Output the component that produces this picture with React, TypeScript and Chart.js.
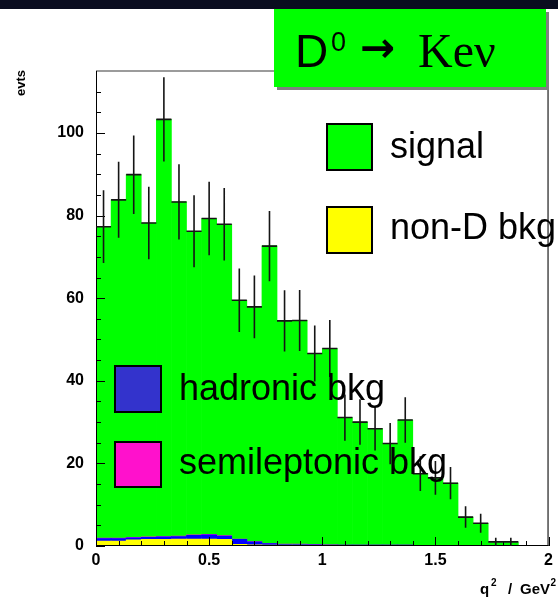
import React, { useEffect, useRef } from "react";
import { Chart, registerables } from "chart.js";

Chart.register(...registerables);

// ---- data ----
const binCenters = [
  0.0333, 0.1, 0.1667, 0.2333, 0.3, 0.3667, 0.4333, 0.5, 0.5667, 0.6333,
  0.7, 0.7667, 0.8333, 0.9, 0.9667, 1.0333, 1.1, 1.1667, 1.2333, 1.3,
  1.3667, 1.4333, 1.5, 1.5667, 1.6333, 1.7, 1.7667, 1.8333, 1.9, 1.9667,
];
const binWidth = 0.06667;

const observed = [
  77.3, 83.8, 89.9, 78.2, 103.3, 83.3, 76.2, 79.3, 77.9, 59.5,
  57.9, 72.6, 54.5, 54.6, 46.6, 47.8, 31.1, 30.0, 28.4, 24.8,
  30.5, 17.5, 16.5, 15.2, 7.0, 5.5, 1.0, 1.0, 0, 0,
];
const observedErr = [
  8.8, 9.2, 9.5, 8.8, 10.2, 9.1, 8.7, 8.9, 8.8, 7.7,
  7.6, 8.5, 7.4, 7.4, 6.8, 6.9, 5.6, 5.5, 5.3, 5.0,
  5.5, 4.2, 4.1, 3.9, 2.6, 2.3, 1.0, 1.0, 0, 0,
];
const signal = [
  75.4, 81.9, 87.8, 76.0, 101.0, 80.9, 73.5, 76.5, 75.4, 57.8,
  56.9, 72.0, 54.1, 54.2, 46.3, 47.5, 30.9, 29.8, 28.2, 24.6,
  30.3, 17.4, 16.4, 15.1, 6.9, 5.4, 0.7, 0.7, 0, 0,
];
const nonDBkg = [
  1.2, 1.2, 1.5, 1.6, 1.6, 1.7, 1.7, 1.7, 1.6, 0.4,
  0.3, 0.2, 0.2, 0.2, 0.15, 0.15, 0.1, 0.1, 0.1, 0.1,
  0.1, 0.1, 0.1, 0.1, 0.1, 0.1, 0.1, 0.1, 0, 0,
];
const hadronicBkg = [
  0.6, 0.6, 0.5, 0.5, 0.6, 0.6, 0.9, 1.0, 0.8, 1.2,
  0.7, 0.4, 0.2, 0.2, 0.15, 0.1, 0.1, 0.1, 0.1, 0.1,
  0.1, 0.05, 0.05, 0.05, 0, 0, 0, 0, 0, 0,
];
const semileptonicBkg = [
  0.1, 0.1, 0.1, 0.1, 0.1, 0.1, 0.1, 0.1, 0.1, 0.1,
  0.05, 0.05, 0.05, 0.05, 0.05, 0.05, 0, 0, 0, 0,
  0, 0, 0, 0, 0, 0, 0, 0, 0, 0,
];

const xTickLabels = ["0", "0.5", "1", "1.5", "2"];
const legendLabels = ["signal", "non-D bkg", "hadronic bkg", "semileptonic bkg"];

const SANS = '"Liberation Sans", Arial, Helvetica, sans-serif';
const SERIF = '"Liberation Serif", "Times New Roman", serif';

const decorPlugin = {
  id: "rootDecor",
  beforeDraw(chart: any) {
    const { ctx, width, height } = chart;
    ctx.save();
    ctx.fillStyle = "#ffffff";
    ctx.fillRect(0, 0, width, height);
    ctx.fillStyle = "#0a0c1f";
    ctx.fillRect(0, 0, width, 9);
    ctx.restore();
  },
  afterDatasetsDraw(chart: any) {
    const { ctx, chartArea: a } = chart;
    const xs = chart.scales.x;
    const ys = chart.scales.y;
    ctx.save();
    // frame
    ctx.lineWidth = 1.5;
    ctx.strokeStyle = "#7a7a7a";
    ctx.beginPath();
    ctx.moveTo(a.left, a.top);
    ctx.lineTo(a.right, a.top);
    ctx.stroke();
    ctx.strokeStyle = "#4a4a4a";
    ctx.beginPath();
    ctx.moveTo(a.right - 0.5, a.top);
    ctx.lineTo(a.right - 0.5, a.bottom);
    ctx.stroke();
    ctx.lineWidth = 1;
    ctx.strokeStyle = "#000";
    ctx.beginPath();
    ctx.moveTo(a.left + 0.5, a.top);
    ctx.lineTo(a.left + 0.5, a.bottom);
    ctx.moveTo(a.left, a.bottom - 0.5);
    ctx.lineTo(a.right, a.bottom - 0.5);
    ctx.stroke();
    // y ticks (inside)
    ctx.beginPath();
    for (let v = 0; v <= 110; v += 5) {
      const py = Math.round(ys.getPixelForValue(v)) + 0.5;
      const len = v % 20 === 0 ? 9 : 5;
      ctx.moveTo(a.left, py);
      ctx.lineTo(a.left + len, py);
    }
    // x ticks (inside)
    for (let k = 0; k <= 20; k++) {
      const v = k / 10;
      const px = Math.round(xs.getPixelForValue(v)) + 0.5;
      const len = k % 5 === 0 ? 9 : 5;
      ctx.moveTo(px, a.bottom);
      ctx.lineTo(px, a.bottom - len);
    }
    ctx.stroke();
    // data crosses
    ctx.strokeStyle = "#151515";
    ctx.lineWidth = 1.6;
    ctx.beginPath();
    observed.forEach((n, i) => {
      if (n <= 0) return;
      const c = binCenters[i];
      const px = xs.getPixelForValue(c);
      const x0 = xs.getPixelForValue(c - binWidth / 2);
      const x1 = xs.getPixelForValue(c + binWidth / 2);
      const py = ys.getPixelForValue(n);
      const yt = ys.getPixelForValue(n + observedErr[i]);
      const yb = ys.getPixelForValue(Math.max(0, n - observedErr[i]));
      ctx.moveTo(x0, py);
      ctx.lineTo(x1, py);
      ctx.moveTo(px, yt);
      ctx.lineTo(px, yb);
    });
    ctx.stroke();
    ctx.restore();
  },
  afterDraw(chart: any) {
    const { ctx } = chart;
    ctx.save();
    // legend
    const boxes = [
      { x: 327, y: 124, w: 45, h: 46, c: "#00ff00", tx: 390, ty: 158 },
      { x: 327, y: 207, w: 45, h: 46, c: "#ffff00", tx: 390, ty: 239 },
      { x: 115, y: 366, w: 46, h: 46, c: "#3333cc", tx: 179, ty: 400 },
      { x: 115, y: 442, w: 46, h: 45, c: "#ff11cc", tx: 179, ty: 474 },
    ];
    boxes.forEach((b, i) => {
      ctx.fillStyle = b.c;
      ctx.fillRect(b.x, b.y, b.w, b.h);
      ctx.lineWidth = 2;
      ctx.strokeStyle = "#000";
      ctx.strokeRect(b.x, b.y, b.w, b.h);
      ctx.fillStyle = "#000";
      ctx.font = `36px ${SANS}`;
      ctx.textAlign = "left";
      ctx.textBaseline = "alphabetic";
      ctx.fillText(legendLabels[i], b.tx, b.ty);
    });

    // title box with shadow
    ctx.fillStyle = "#808080";
    ctx.fillRect(277, 12, 272, 78);
    ctx.fillStyle = "#00ff00";
    ctx.fillRect(274, 9, 272, 78);
    ctx.fillStyle = "#000";
    ctx.textAlign = "left";
    ctx.textBaseline = "alphabetic";
    ctx.font = `46px ${SANS}`;
    ctx.fillText("D", 295, 67);
    ctx.font = `27px ${SANS}`;
    ctx.fillText("0", 331, 51);
    ctx.font = `bold 42px "DejaVu Sans", sans-serif`;
    ctx.textBaseline = "middle";
    ctx.fillText("\u2192", 360, 51);
    ctx.textBaseline = "alphabetic";
    ctx.font = `48px ${SERIF}`;
    ctx.fillText("Ke\u03bd", 418, 67);

    // y axis title
    ctx.save();
    ctx.translate(25, 70);
    ctx.rotate(-Math.PI / 2);
    ctx.font = `bold 13px ${SANS}`;
    ctx.textAlign = "right";
    ctx.fillText("evts", 0, 0);
    ctx.restore();

    // x axis title  q^2 / GeV^2
    ctx.font = `bold 15px ${SANS}`;
    ctx.textAlign = "left";
    ctx.fillText("q", 480, 594);
    ctx.fillText("/", 508, 594);
    ctx.fillText("GeV", 520, 594);
    const gw = ctx.measureText("GeV").width;
    ctx.font = `bold 10px ${SANS}`;
    ctx.fillText("2", 491, 586);
    ctx.fillText("2", 520 + gw + 0.5, 586);
    ctx.restore();
  },
};

export default function App() {
  const ref = useRef<HTMLCanvasElement | null>(null);
  useEffect(() => {
    if (!ref.current) return;
    const mk = (arr: number[]) => binCenters.map((x, i) => ({ x, y: arr[i] }));
    const common = {
      barPercentage: 1,
      categoryPercentage: 1,
      borderWidth: 0,
      grouped: false,
    };
    const chart = new Chart(ref.current, {
      type: "bar",
      data: {
        datasets: [
          { label: legendLabels[1], data: mk(nonDBkg), backgroundColor: "#ffff00", ...common },
          { label: legendLabels[2], data: mk(hadronicBkg), backgroundColor: "#0000ff", ...common },
          { label: legendLabels[3], data: mk(semileptonicBkg), backgroundColor: "#ff11cc", ...common },
          { label: legendLabels[0], data: mk(signal), backgroundColor: "#00ff00", ...common },
        ],
      } as any,
      options: {
        responsive: false,
        animation: false,
        devicePixelRatio: 1,
        layout: { padding: { top: 71, right: 5, left: 0, bottom: 0 } },
        plugins: { legend: { display: false }, tooltip: { enabled: false }, title: { display: false } },
        scales: {
          x: {
            type: "linear",
            min: 0,
            max: 2,
            stacked: true,
            offset: false,
            grid: { display: false, drawTicks: false },
            border: { display: false },
            ticks: {
              stepSize: 0.5,
              padding: 5,
              maxRotation: 0,
              autoSkip: false,
              color: "#000",
              font: { family: SANS, size: 16, weight: "bold" },
              callback: (v: any) => xTickLabels[Math.round(Number(v) * 2)] ?? "",
            },
            afterFit: (s: any) => {
              s.height = 54;
            },
          },
          y: {
            min: 0,
            max: 115,
            stacked: true,
            grid: { display: false, drawTicks: false },
            border: { display: false },
            ticks: {
              stepSize: 20,
              includeBounds: false,
              padding: 12,
              color: "#000",
              font: { family: SANS, size: 16, weight: "bold" },
            },
            afterFit: (s: any) => {
              s.width = 96;
            },
          },
        },
      } as any,
      plugins: [decorPlugin],
    });
    return () => chart.destroy();
  }, []);
  return (
    <div style={{ position: "absolute", left: 0, top: 0, width: 558, height: 600 }}>
      <canvas ref={ref} width={558} height={600} style={{ display: "block" }} />
    </div>
  );
}
